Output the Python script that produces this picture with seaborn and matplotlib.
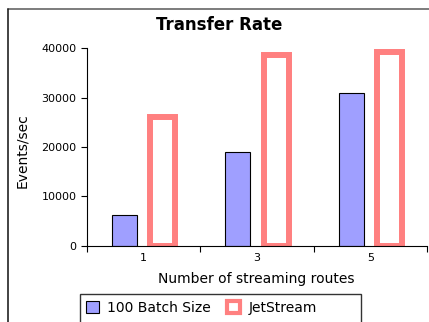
import matplotlib
matplotlib.use("Agg")
import matplotlib.pyplot as plt
from matplotlib.patches import Patch, Rectangle
from matplotlib.lines import Line2D
import seaborn as sns
import pandas as pd

routes = ["1", "3", "5"]
series_names = ["100 Batch Size", "JetStream"]
batch_values = [6300, 18900, 30900]
jetstream_values = [26000, 38700, 39300]
y_ticks = [0, 10000, 20000, 30000, 40000]

blue = "#9f9fff"
red = "#ff8080"

df = pd.DataFrame({
    "routes": routes * 2,
    "series": [series_names[0]] * 3 + [series_names[1]] * 3,
    "rate": batch_values + jetstream_values,
})

sns.set_theme(style="white")
plt.rcParams["font.family"] = ["DejaVu Sans"]
plt.rcParams["text.color"] = "black"
plt.rcParams["xtick.color"] = "black"
plt.rcParams["ytick.color"] = "black"

W, H = 429, 322
fig = plt.figure(figsize=(W / 100, H / 100), dpi=100)
ax = fig.add_axes([87 / W, 1 - 245.7 / H, 340 / W, 197.4 / H])

sns.barplot(data=df, x="routes", y="rate", hue="series", order=routes,
            hue_order=series_names, palette=[blue, red], width=0.68, gap=0.35,
            ax=ax, legend=False, saturation=1, errorbar=None)

for p in ax.containers[0]:
    p.set_edgecolor("black")
    p.set_linewidth(0.8)
    p.set_facecolor(blue)
for p in ax.containers[1]:
    p.set_facecolor("white")
    p.set_edgecolor(red)
    p.set_linewidth(4.3)
    p.set_joinstyle("miter")
    p.set_zorder(1.5)

ax.set_xlim(-0.5, 2.5)
ax.set_ylim(0, 40000)
ax.set_yticks(y_ticks)
ax.set_yticklabels([str(v) for v in y_ticks], fontsize=8, color="black")
ax.set_xticks([-0.5, 0.5, 1.5, 2.5])
ax.set_xticklabels([])
ax.set_xticks([0, 1, 2], minor=True)
ax.set_xticklabels(routes, minor=True, fontsize=8, color="black")
ax.tick_params(axis="x", which="major", direction="out", length=4.5, width=0.8,
               color="black", bottom=True)
ax.tick_params(axis="x", which="minor", length=0, pad=5)
ax.tick_params(axis="y", direction="out", length=4.5, width=0.8, color="black",
               left=True, pad=3)
ax.set_xlabel("")
ax.set_ylabel("")
for side in ["top", "right"]:
    ax.spines[side].set_visible(False)
for side in ["left", "bottom"]:
    ax.spines[side].set_color("black")
    ax.spines[side].set_linewidth(0.8)
ax.set_facecolor("white")
ax.grid(False)

fig.text(219 / W, 1 - 25 / H, "Transfer Rate", ha="center", va="center",
         fontsize=12, fontweight="bold", color="black")
fig.text(256 / W, 1 - 279 / H, "Number of streaming routes", ha="center",
         va="center", fontsize=10, color="black")
fig.text(22.5 / W, 1 - 151 / H, "Events/sec", ha="center", va="center",
         fontsize=10, rotation=90, color="black")

# outer frame around the chart
fig.add_artist(Line2D([8 / W, 1.2], [1 - 9 / H, 1 - 9 / H], transform=fig.transFigure,
                      color="#666666", linewidth=1.2))
fig.add_artist(Line2D([8 / W, 8 / W], [1 - 9 / H, -0.2], transform=fig.transFigure,
                      color="#222222", linewidth=1.2))

# legend box
fig.add_artist(Rectangle((80 / W, -0.1), (361 - 80) / W, 0.1 + 1 - 294 / H,
                         transform=fig.transFigure, facecolor="white",
                         edgecolor="#333333", linewidth=1.0))

handles = [
    Patch(facecolor=blue, edgecolor="black", linewidth=0.8, label=series_names[0]),
    Patch(facecolor="white", edgecolor=red, linewidth=3, label=series_names[1]),
]
leg = fig.legend(handles=handles, loc="center left",
                 bbox_to_anchor=(82 / W, 1 - 308 / H),
                 ncol=2, frameon=False, fontsize=10,
                 handlelength=0.9, handleheight=0.9, handletextpad=0.6,
                 columnspacing=1.2, borderpad=0.3, borderaxespad=0)
for t in leg.get_texts():
    t.set_color("black")

fig.savefig("out.png", dpi=100, facecolor="white")
